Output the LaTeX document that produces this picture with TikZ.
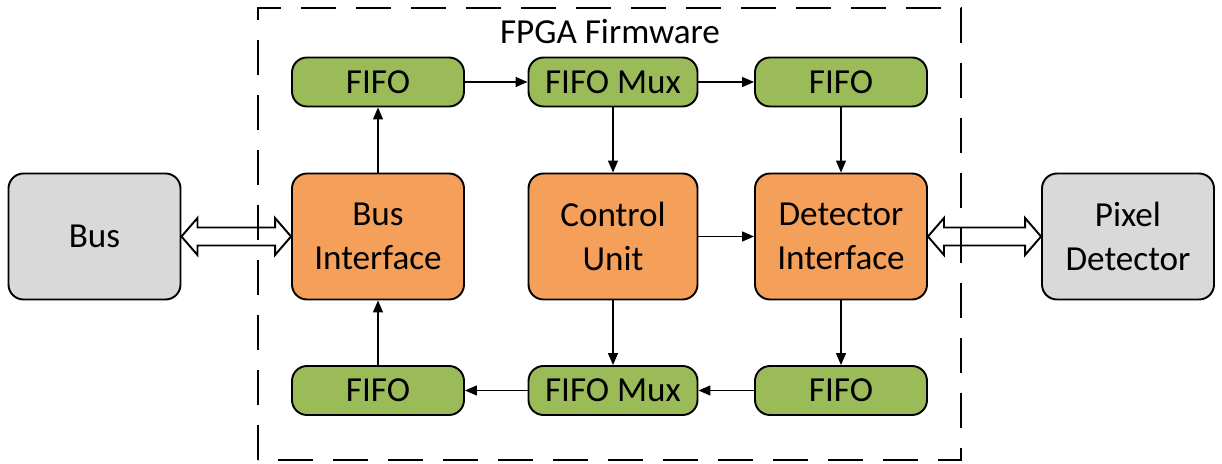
\documentclass[tikz,border=0pt]{standalone}
\usepackage{fontspec}
\setmainfont{Carlito}
\usetikzlibrary{arrows.meta,calc}
\definecolor{boxgray}{HTML}{D9D9D9}
\definecolor{boxorange}{HTML}{F5A05A}
\definecolor{boxgreen}{HTML}{9BBB59}
\tikzset{
  bigbox/.style={draw,line width=1.1pt,rounded corners=0.3cm,minimum width=3.44cm,minimum height=2.52cm,align=center,font=\fontsize{20}{25}\selectfont},
  fifobox/.style={draw,line width=1.1pt,rounded corners=0.3cm,fill=boxgreen,minimum width=3.44cm,minimum height=0.98cm,font=\fontsize{20}{24}\selectfont},
  flow/.style={line width=0.8pt,-{Triangle[length=0.24cm,width=0.2cm]}}
}
\newcommand\fatarrow[2]{%
  \draw[line width=1.1pt,fill=white,line join=miter] let \p1=(#1.east), \p2=(#2.west) in
    (\x1,\y1) -- ++(0.32,0.37) -- ++(0,-0.19) -- (\x2-0.32cm,\y1+0.18cm) -- ++(0,0.19)
    -- (\x2,\y1) -- (\x2-0.32cm,\y1-0.37cm) -- ++(0,0.19) -- (\x1+0.32cm,\y1-0.18cm)
    -- ++(0,-0.19) -- cycle;}
\begin{document}
\begin{tikzpicture}
\useasboundingbox (0,0) rectangle (24.44,9.26);
% big blocks
\node[bigbox,fill=boxgray] (bus) at (1.89,4.53) {Bus};
\node[bigbox,fill=boxorange] (busif) at (7.56,4.53) {Bus\\Interface};
\node[bigbox,fill=boxorange,minimum width=3.38cm] (ctrl) at (12.26,4.53) {Control\\Unit};
\node[bigbox,fill=boxorange] (detif) at (16.82,4.53) {Detector\\Interface};
\node[bigbox,fill=boxgray] (pixel) at (22.56,4.53) {Pixel\\Detector};
% fifos
\node[fifobox] (fifoA) at (7.56,7.62) {FIFO};
\node[fifobox,minimum width=3.38cm] (muxA) at (12.26,7.62) {FIFO Mux};
\node[fifobox] (fifoB) at (16.82,7.62) {FIFO};
\node[fifobox] (fifoC) at (7.56,1.45) {FIFO};
\node[fifobox,minimum width=3.38cm] (muxB) at (12.26,1.45) {FIFO Mux};
\node[fifobox] (fifoD) at (16.82,1.45) {FIFO};
% connections
\draw[flow] (busif) -- (fifoA);
\draw[flow] (fifoA) -- (muxA);
\draw[flow] (muxA) -- (fifoB);
\draw[flow] (muxA) -- (ctrl);
\draw[flow] (fifoB) -- (detif);
\draw[flow] (ctrl) -- (detif);
\draw[flow] (ctrl) -- (muxB);
\draw[flow] (detif) -- (fifoD);
\draw[flow] (fifoD) -- (muxB);
\draw[flow] (muxB) -- (fifoC);
\draw[flow] (fifoC) -- (busif);
\fatarrow{bus}{busif}
\fatarrow{detif}{pixel}
% firmware frame
\draw[line width=1.1pt,dash pattern=on 0.7cm off 0.4cm] (5.16,0.06) rectangle (19.22,9.10);
\node[font=\fontsize{20}{24}\selectfont] (fw) at (12.2,8.62) {FPGA Firmware};
\end{tikzpicture}
\end{document}
